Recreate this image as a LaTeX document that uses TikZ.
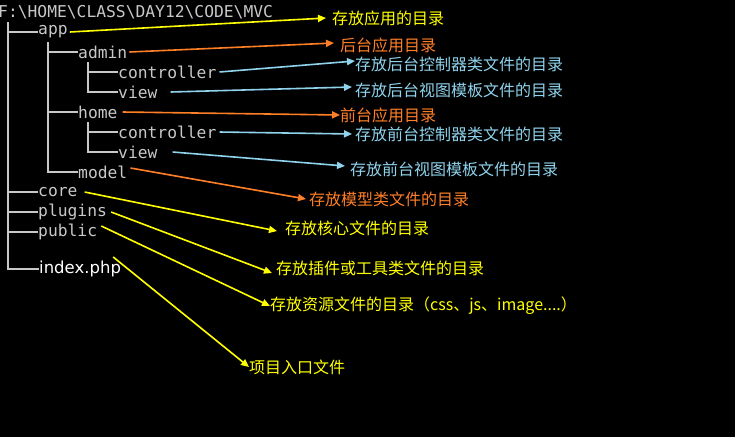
\documentclass[tikz,border=0pt]{standalone}
\usepackage{fontspec}
\setmainfont{DejaVu Sans}
\newfontfamily\cjk{Noto Sans CJK SC}
\newfontfamily\mono{DejaVu Sans Mono}
\usetikzlibrary{arrows.meta}
\definecolor{ylw}{HTML}{FFFF00}
\definecolor{org}{HTML}{FF7F27}
\definecolor{blu}{HTML}{8FD3EC}
\definecolor{gry}{HTML}{C8C8C8}
\tikzset{
  tr/.style={font=\mono\fontsize{16.3}{16}\selectfont, text=gry, inner sep=0pt, anchor=west},
  lb/.style={font=\cjk\fontsize{16}{16}\selectfont, inner sep=0pt, anchor=west},
  tl/.style={gry, line width=2pt},
  ar/.style={line width=1.6pt, -{Triangle[width=7pt,length=8pt]}},
}
\begin{document}
\begin{tikzpicture}[x=1pt,y=-1pt]
\fill[black] (0,0) rectangle (735,437);
\useasboundingbox (0,0) rectangle (735,437);
\node[tr] (root) at (-2,12) {F:\textbackslash HOME\textbackslash CLASS\textbackslash DAY12\textbackslash CODE\textbackslash MVC};
\node[tr] (app) at (38,32) {app};
\node[tr] (admin) at (78,52) {admin};
\node[tr] (c1) at (118,72) {controller};
\node[tr] (v1) at (118,92) {view};
\node[tr] (home) at (78,112) {home};
\node[tr] (c2) at (118,132) {controller};
\node[tr] (v2) at (118,152) {view};
\node[tr] (model) at (78,172) {model};
\node[tr] (core) at (38,192) {core};
\node[tr] (plug) at (38,212) {plugins};
\node[tr] (pub) at (38,232) {public};
\node[font=\fontsize{16.5}{16}\selectfont, text=white, inner sep=0pt, anchor=west] (idx) at (39,269) {index.php};
% tree lines
\draw[tl] (8,22) -- (8,32) -- (app.west);
\draw[tl] (8,32) -- (8,269) -- (idx.west);
\draw[tl] (8,192) -- (core.west);
\draw[tl] (8,212) -- (plug.west);
\draw[tl] (8,232) -- (pub.west);
\draw[tl] (48,42) -- (48,172) -- (model.west);
\draw[tl] (48,52) -- (admin.west);
\draw[tl] (48,112) -- (home.west);
\draw[tl] (88,62) -- (88,92) -- (v1.west);
\draw[tl] (88,72) -- (c1.west);
\draw[tl] (88,122) -- (88,152) -- (v2.west);
\draw[tl] (88,132) -- (c2.west);
% labels
\node[lb,text=ylw] (l1) at (332,18) {存放应用的目录};
\node[lb,text=org] (l2) at (340,45) {后台应用目录};
\node[lb,text=blu] (l3) at (355,64) {存放后台控制器类文件的目录};
\node[lb,text=blu] (l4) at (355,90) {存放后台视图模板文件的目录};
\node[lb,text=org] (l5) at (340,115) {前台应用目录};
\node[lb,text=blu] (l6) at (355,134) {存放前台控制器类文件的目录};
\node[lb,text=blu] (l7) at (350,169) {存放前台视图模板文件的目录};
\node[lb,text=org] (l8) at (309,199) {存放模型类文件的目录};
\node[lb,text=ylw] (l9) at (285,228) {存放核心文件的目录};
\node[lb,text=ylw] (l10) at (276,268) {存放插件或工具类文件的目录};
\node[lb,text=ylw] (l11) at (270,306) {存放资源文件的目录（css、js、image....）};
\node[lb,text=ylw] (l12) at (249,367) {项目入口文件};
% arrows
\draw[ar,ylw] ([xshift=2pt]app.east) -- ([xshift=-6pt]l1.west);
\draw[ar,org] ([xshift=2pt]admin.east) -- ([xshift=-6pt,yshift=2pt]l2.west);
\draw[ar,blu] ([xshift=3pt]c1.east) -- ([yshift=3pt]l3.west);
\draw[ar,blu] ([xshift=13pt]v1.east) -- ([xshift=-3pt,yshift=3pt]l4.west);
\draw[ar,org] ([xshift=5pt]home.east) -- (l5.west);
\draw[ar,blu] ([xshift=3pt]c2.east) -- ([xshift=-3pt]l6.west);
\draw[ar,blu] ([xshift=15pt]v2.east) -- ([xshift=-5pt,yshift=3pt]l7.west);
\draw[ar,org] ([xshift=3pt,yshift=4pt]model.east) -- ([xshift=-3pt]l8.west);
\draw[ar,ylw] ([xshift=7pt]core.east) -- ([xshift=-8pt,yshift=-3pt]l9.west);
\draw[ar,ylw] ([xshift=4pt]plug.east) -- ([xshift=-4pt,yshift=-5pt]l10.west);
\draw[ar,ylw] ([xshift=4pt,yshift=6pt]pub.east) -- (l11.west);
\draw[ar,ylw] ([xshift=-8pt,yshift=12pt]idx.east) -- (l12.west);
\end{tikzpicture}
\end{document}
